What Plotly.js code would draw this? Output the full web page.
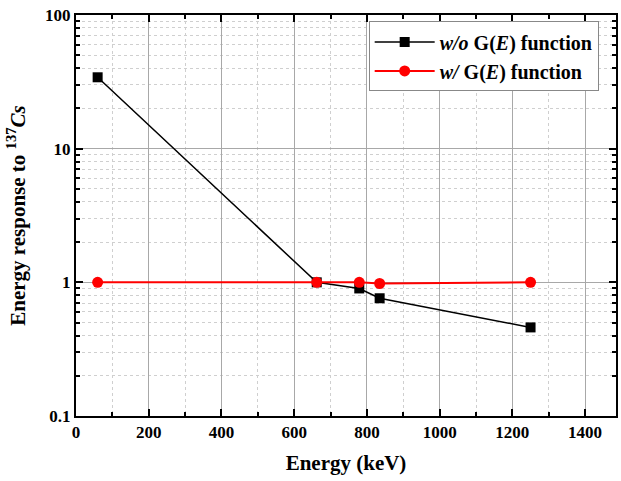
<!DOCTYPE html>
<html><head><meta charset="utf-8">
<script src="https://cdn.plot.ly/plotly-3.0.1.min.js"></script>
<style>body{margin:0;background:#fff}#c{width:621px;height:481px}</style>
</head><body><div id="c"></div>
<script>
const energy = [59.5, 662, 779, 835, 1250];
const respWithout = [34.2, 1.0, 0.90, 0.76, 0.46];
const respWith = [1.0, 1.0, 1.0, 0.98, 1.0];
const nameWithout = "<b><i>w/o</i> G(<i>E</i>) function</b>";
const nameWith = "<b><i>w/</i> G(<i>E</i>) function</b>";
const xTicks = [0, 200, 400, 600, 800, 1000, 1200, 1400];
const yTicks = [0.1, 1, 10, 100];
const yTickText = ['0.1', '1', '10', '100'];
const yMinor = [0.2,0.3,0.4,0.5,0.6,0.7,0.8,0.9,2,3,4,5,6,7,8,9,20,30,40,50,60,70,80,90];

const serif = "Liberation Serif, Times New Roman, serif";
const traces = [
  {x: energy, y: respWithout, name: nameWithout, mode: 'lines+markers',
   line: {color: '#000', width: 1.5}, marker: {symbol: 'square', size: 10, color: '#000'}},
  {x: energy, y: respWith, name: nameWith, mode: 'lines+markers',
   line: {color: '#ff0000', width: 2}, marker: {symbol: 'circle', size: 11, color: '#ff0000'}}
];
const axisCommon = {
  showline: true, linecolor: '#000', linewidth: 2, mirror: 'allticks',
  ticks: 'inside', ticklen: 7, tickwidth: 2, tickcolor: '#000',
  showgrid: true, gridcolor: '#a8a8a8', gridwidth: 1, zeroline: false,
  tickfont: {family: serif, size: 17, color: '#000', weight: 'bold'}
};
const minorCommon = {ticks: 'inside', ticklen: 4, tickwidth: 2, tickcolor: '#000',
  showgrid: true, gridcolor: '#cfcfcf', griddash: 'dot', gridwidth: 1};
const layout = {
  width: 621, height: 481,
  margin: {l: 76, r: 5, t: 15, b: 65},
  paper_bgcolor: '#fff', plot_bgcolor: '#fff',
  showlegend: true,
  legend: {x: 0.542, y: 0.984, xanchor: 'left', yanchor: 'top',
    bordercolor: '#888', borderwidth: 1, bgcolor: '#fff', itemwidth: 60,
    font: {family: serif, size: 20, color: '#000'}, tracegroupgap: 0},
  xaxis: Object.assign({}, axisCommon, {
    range: [0, 1485], tickmode: 'array', tickvals: xTicks,
    ticktext: xTicks.map(v => '<b>' + v + '</b>'),
    minor: Object.assign({dtick: 100, tick0: 0}, minorCommon),
    title: {text: '<b>Energy (keV)</b>', font: {family: serif, size: 21, color: '#000'}, standoff: 14}
  }),
  yaxis: Object.assign({}, axisCommon, {
    type: 'log', range: [-1, 2], tickmode: 'array',
    tickvals: yTicks, ticktext: yTickText.map(t => '<b>' + t + '</b>'),
    minor: Object.assign({tickmode: 'array', tickvals: yMinor}, minorCommon),
    title: {text: '<b>Energy response to <sup>137</sup><i>Cs</i></b>', font: {family: serif, size: 21, color: '#000'}, standoff: 14}
  })
};
Plotly.newPlot('c', traces, layout, {displayModeBar: false, staticPlot: true});
</script></body></html>
